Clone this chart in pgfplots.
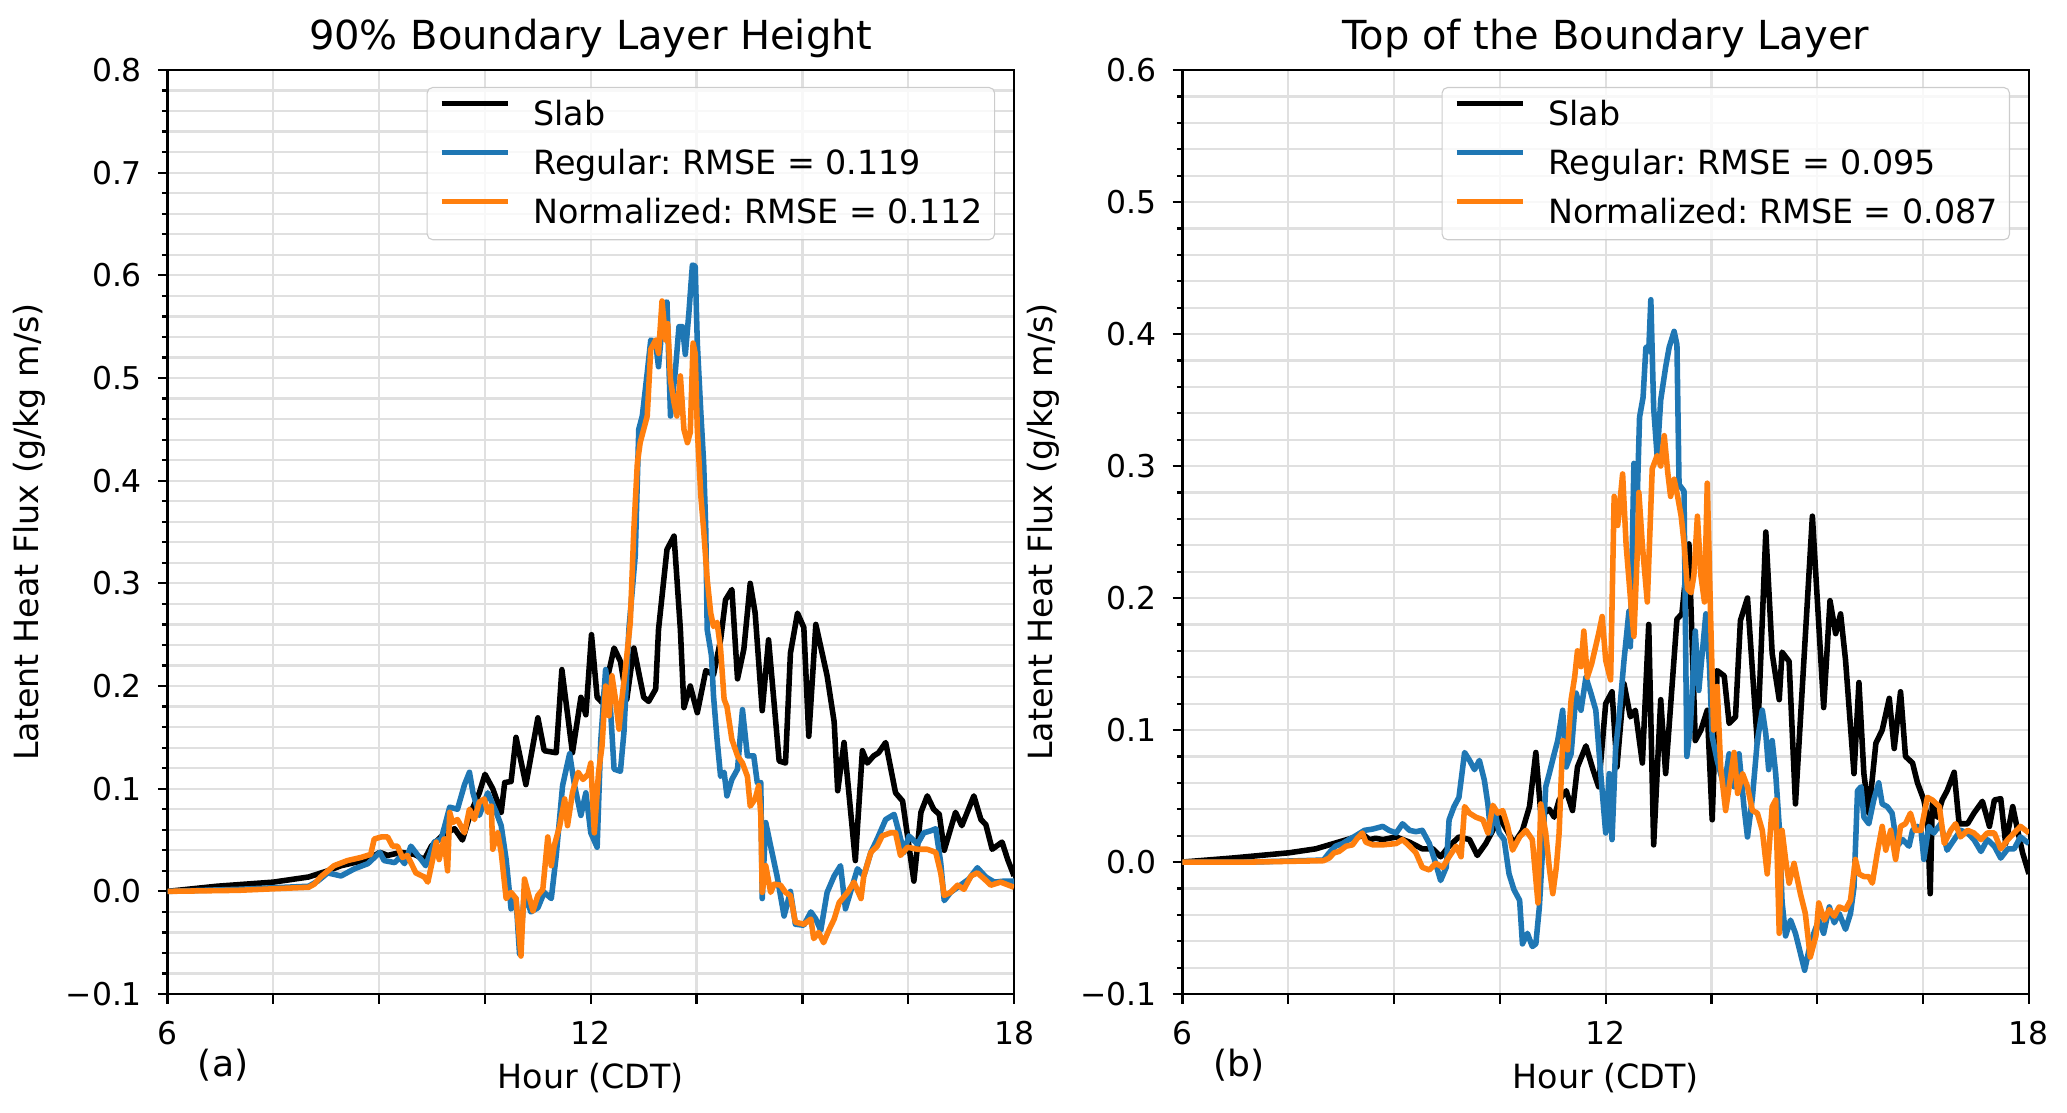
\documentclass[border=0pt]{standalone}
\usepackage{fontspec}
\setmainfont{DejaVu Sans}
\usepackage{pgfplots}
\pgfplotsset{compat=1.18}
\frenchspacing

\definecolor{mplblue}{HTML}{1F77B4}
\definecolor{mplorange}{HTML}{FF7F0E}

\pgfplotsset{
  panel/.style={
    scale only axis, width=304.7pt, height=332.6pt,
    xmin=6, xmax=18,
    xtick={6,7.5,...,18}, xticklabels={6,,,,12,,,,18},
    minor y tick num=4,
    grid=both,
    major grid style={draw=black!12, line width=0.8pt},
    minor grid style={draw=black!12, line width=0.8pt},
    tick align=outside, tick pos=left,
    major tick length=3.5pt, minor tick length=2pt,
    every tick/.style={black, line width=0.8pt},
    axis line style={line width=0.9pt},
    tick label style={font=\fontsize{11.3}{13}\selectfont},
    xticklabel style={anchor=base, yshift=-14.8pt},
    yticklabel style={anchor=east, inner xsep=0pt, xshift=-5.5pt},
    label style={font=\fontsize{12}{14}\selectfont},
    xlabel={Hour (CDT)},
    xlabel style={at={(axis description cs:0.5,0)}, anchor=center, yshift=-30.2pt},
    ylabel={Latent Heat Flux (g/kg m/s)},
    ylabel style={at={(axis description cs:0,0.5)}, anchor=center, yshift=49.9pt},
    title style={font=\fontsize{14.4}{17}\selectfont, at={(axis description cs:0.5,1)}, anchor=base, yshift=1.5pt},
    legend cell align=left,
    legend image code/.code={\draw[#1] (0pt,4pt) -- (24pt,4pt);},
    legend style={at={(axis description cs:1,1)}, anchor=north east,
      xshift=-6.8pt, yshift=-6.1pt,
      draw=black!20, fill=white, fill opacity=0.8, text opacity=1,
      rounded corners=2pt, inner xsep=4.2pt, inner ysep=1pt,
      font=\fontsize{12}{14}\selectfont,
      nodes={inner xsep=0pt, inner ysep=0pt, text height=12.8pt, text depth=4.8pt},
      /tikz/every odd column/.append style={column sep=8pt}},
    every axis plot/.append style={line width=2pt, line join=round},
  }
}

\begin{document}
\begin{tikzpicture}
\path[use as bounding box] (0,0) rectangle (744pt,400.3pt);

% (a) 90% boundary layer height
\begin{axis}[panel, at={(60.3pt,42.5pt)}, anchor=south west,
  ymin=-0.1, ymax=0.8,
  ytick={-0.1,0,0.1,0.2,0.3,0.4,0.5,0.6,0.7,0.8},
  yticklabels={−0.1,0.0,0.1,0.2,0.3,0.4,0.5,0.6,0.7,0.8},
  title={90\% Boundary Layer Height}]
\addplot[black] coordinates {
(6.0,0.0) (6.7,0.005) (7.5,0.009) (8.0,0.014) (8.27,0.020) (8.46,0.025) (8.65,0.028) (8.84,0.031)
(9.01,0.038) (9.12,0.035) (9.31,0.038) (9.5,0.036) (9.64,0.031) (9.74,0.044) (9.92,0.056) (10.07,0.061)
(10.18,0.050) (10.30,0.077) (10.42,0.096) (10.5,0.114) (10.61,0.100) (10.73,0.077) (10.78,0.106) (10.87,0.107)
(10.94,0.150) (11.08,0.104) (11.25,0.169) (11.34,0.137) (11.51,0.135) (11.59,0.216) (11.74,0.135) (11.86,0.189)
(11.93,0.172) (12.01,0.250) (12.09,0.189) (12.16,0.184) (12.33,0.237) (12.42,0.224) (12.51,0.187) (12.61,0.237)
(12.75,0.189) (12.82,0.185) (12.92,0.197) (12.96,0.255) (13.08,0.333) (13.18,0.346) (13.27,0.255) (13.32,0.179)
(13.41,0.200) (13.51,0.174) (13.63,0.215) (13.74,0.211) (13.84,0.245) (13.91,0.284) (14.0,0.294) (14.08,0.207)
(14.17,0.236) (14.26,0.300) (14.33,0.271) (14.43,0.176) (14.52,0.245) (14.67,0.127) (14.76,0.125) (14.83,0.232)
(14.93,0.271) (15.02,0.257) (15.09,0.151) (15.19,0.260) (15.35,0.210) (15.45,0.165) (15.50,0.098) (15.59,0.145)
(15.75,0.030) (15.85,0.137) (15.92,0.125) (16.01,0.132) (16.08,0.135) (16.18,0.145) (16.32,0.096) (16.42,0.088)
(16.51,0.044) (16.58,0.010) (16.68,0.077) (16.77,0.093) (16.86,0.080) (16.94,0.075) (17.01,0.040) (17.17,0.077)
(17.26,0.064) (17.43,0.093) (17.53,0.070) (17.60,0.065) (17.69,0.041) (17.83,0.048) (17.91,0.031) (18.0,0.015)
};
\addlegendentry{Slab}
\addplot[mplblue] coordinates {
(6.0,0.0) (7.0,0.002) (8.0,0.005) (8.13,0.010) (8.27,0.018) (8.46,0.015) (8.65,0.022) (8.84,0.027)
(9.01,0.038) (9.07,0.030) (9.22,0.028) (9.29,0.033) (9.36,0.027) (9.45,0.044) (9.55,0.035) (9.66,0.025)
(9.78,0.048) (9.88,0.051) (10.0,0.082) (10.11,0.080) (10.21,0.104) (10.28,0.116) (10.33,0.096) (10.42,0.074)
(10.54,0.096) (10.66,0.077) (10.73,0.064) (10.8,0.031) (10.87,-0.017) (10.94,-0.007) (10.99,-0.061) (11.06,-0.001)
(11.15,-0.020) (11.25,-0.016) (11.34,-0.001) (11.44,-0.007) (11.51,0.035) (11.60,0.103) (11.70,0.134) (11.77,0.103)
(11.86,0.074) (11.93,0.096) (12.0,0.057) (12.09,0.043) (12.14,0.145) (12.21,0.216) (12.28,0.177) (12.33,0.119)
(12.42,0.117) (12.47,0.155) (12.54,0.255) (12.63,0.327) (12.68,0.450) (12.73,0.463) (12.80,0.505) (12.85,0.537)
(12.92,0.534) (12.96,0.511) (13.04,0.573) (13.08,0.574) (13.13,0.463) (13.20,0.508) (13.25,0.550) (13.30,0.550)
(13.34,0.523) (13.39,0.563) (13.44,0.610) (13.48,0.609) (13.51,0.534) (13.56,0.466) (13.60,0.417) (13.63,0.352)
(13.65,0.255) (13.71,0.230) (13.74,0.190) (13.79,0.148) (13.84,0.112) (13.89,0.116) (13.93,0.093) (14.0,0.109)
(14.08,0.119) (14.15,0.177) (14.22,0.132) (14.31,0.132) (14.36,0.106) (14.41,0.106) (14.43,-0.007) (14.48,0.067)
(14.55,0.044) (14.64,0.015) (14.74,-0.024) (14.83,0.0) (14.90,-0.032) (15.02,-0.033) (15.12,-0.020) (15.19,-0.027)
(15.26,-0.038) (15.35,-0.001) (15.45,0.015) (15.54,0.025) (15.61,-0.017) (15.68,-0.001) (15.78,0.022) (15.87,0.015)
(15.97,0.038) (16.06,0.051) (16.18,0.070) (16.30,0.075) (16.37,0.057) (16.44,0.038) (16.51,0.054) (16.63,0.046)
(16.72,0.057) (16.82,0.059) (16.89,0.061) (16.96,0.028) (17.01,-0.009) (17.10,-0.001) (17.24,0.006) (17.36,0.012)
(17.48,0.023) (17.60,0.014) (17.72,0.009) (17.86,0.010) (18.0,0.010)
};
\addlegendentry{Regular: RMSE = 0.119}
\addplot[mplorange] coordinates {
(6.0,0.0) (7.0,0.001) (8.0,0.004) (8.08,0.007) (8.17,0.014) (8.36,0.025) (8.55,0.030) (8.74,0.033)
(8.88,0.036) (8.93,0.051) (9.03,0.053) (9.12,0.053) (9.19,0.044) (9.26,0.044) (9.33,0.033) (9.40,0.035)
(9.52,0.018) (9.64,0.014) (9.69,0.009) (9.74,0.025) (9.81,0.048) (9.85,0.031) (9.92,0.051) (9.97,0.020)
(10.0,0.077) (10.04,0.067) (10.11,0.070) (10.21,0.057) (10.28,0.080) (10.35,0.070) (10.42,0.087) (10.49,0.090)
(10.54,0.077) (10.59,0.083) (10.61,0.041) (10.68,0.057) (10.73,0.038) (10.80,-0.007) (10.87,-0.001) (10.94,-0.007)
(11.01,-0.063) (11.06,0.012) (11.11,-0.001) (11.18,-0.019) (11.25,-0.004) (11.32,0.002) (11.39,0.053) (11.44,0.025)
(11.48,0.044) (11.56,0.064) (11.63,0.090) (11.67,0.064) (11.74,0.096) (11.82,0.116) (11.89,0.109) (11.96,0.114)
(12.0,0.125) (12.05,0.057) (12.11,0.116) (12.16,0.142) (12.21,0.200) (12.26,0.171) (12.30,0.210) (12.35,0.187)
(12.40,0.158) (12.44,0.187) (12.49,0.216) (12.56,0.262) (12.61,0.352) (12.66,0.417) (12.70,0.437) (12.75,0.450)
(12.80,0.463) (12.85,0.528) (12.92,0.537) (12.96,0.524) (13.01,0.575) (13.06,0.537) (13.09,0.553) (13.13,0.498)
(13.18,0.476) (13.22,0.463) (13.27,0.502) (13.32,0.450) (13.37,0.437) (13.41,0.447) (13.45,0.534) (13.48,0.524)
(13.51,0.450) (13.56,0.385) (13.60,0.352) (13.65,0.304) (13.70,0.271) (13.74,0.258) (13.79,0.262) (13.84,0.236)
(13.89,0.187) (13.93,0.180) (14.0,0.148) (14.08,0.132) (14.15,0.125) (14.22,0.112) (14.26,0.083) (14.33,0.090)
(14.38,0.103) (14.41,0.074) (14.43,-0.001) (14.48,0.025) (14.55,-0.001) (14.60,0.007) (14.69,0.006) (14.76,-0.001)
(14.83,-0.004) (14.90,-0.030) (15.02,-0.032) (15.12,-0.027) (15.16,-0.046) (15.23,-0.040) (15.30,-0.050) (15.38,-0.037)
(15.45,-0.027) (15.52,-0.011) (15.64,-0.001) (15.73,0.009) (15.83,-0.007) (15.87,0.015) (15.97,0.038) (16.06,0.044)
(16.13,0.054) (16.25,0.057) (16.32,0.057) (16.39,0.035) (16.49,0.043) (16.63,0.041) (16.77,0.041) (16.89,0.038)
(16.96,0.018) (17.01,-0.004) (17.10,-0.001) (17.20,0.006) (17.29,0.002) (17.39,0.015) (17.48,0.018) (17.58,0.012)
(17.67,0.006) (17.81,0.009) (18.0,0.004)
};
\addlegendentry{Normalized: RMSE = 0.112}
\end{axis}
\node[font=\fontsize{13}{15}\selectfont] at (80.3pt,16.9pt) {(a)};

% (b) top of the boundary layer
\begin{axis}[panel, at={(425.6pt,42.5pt)}, anchor=south west,
  ymin=-0.1, ymax=0.6,
  ytick={-0.1,0,0.1,0.2,0.3,0.4,0.5,0.6},
  yticklabels={−0.1,0.0,0.1,0.2,0.3,0.4,0.5,0.6},
  title={Top of the Boundary Layer}]
\addplot[black] coordinates {
(6.0,0.0) (6.7,0.003) (7.51,0.007) (7.89,0.010) (8.08,0.013) (8.27,0.016) (8.46,0.019) (8.58,0.020)
(8.65,0.017) (8.74,0.018) (8.84,0.017) (9.03,0.019) (9.22,0.015) (9.40,0.010) (9.55,0.010) (9.66,0.004)
(9.78,0.012) (9.92,0.019) (10.07,0.017) (10.18,0.005) (10.30,0.014) (10.40,0.024) (10.49,0.034) (10.61,0.023)
(10.70,0.014) (10.82,0.024) (10.92,0.042) (11.01,0.083) (11.08,0.037) (11.13,0.037) (11.20,0.040) (11.27,0.034)
(11.34,0.047) (11.44,0.054) (11.53,0.039) (11.60,0.072) (11.72,0.088) (11.82,0.070) (11.90,0.057) (12.0,0.120)
(12.09,0.129) (12.16,0.072) (12.26,0.135) (12.35,0.110) (12.42,0.115) (12.52,0.075) (12.61,0.180) (12.68,0.013)
(12.78,0.123) (12.85,0.067) (13.01,0.184) (13.08,0.188) (13.18,0.241) (13.27,0.092) (13.35,0.100) (13.44,0.115)
(13.51,0.032) (13.58,0.145) (13.68,0.141) (13.75,0.105) (13.84,0.110) (13.91,0.183) (14.01,0.200) (14.15,0.090)
(14.27,0.250) (14.36,0.158) (14.46,0.123) (14.50,0.159) (14.60,0.152) (14.69,0.044) (14.93,0.262) (15.09,0.117)
(15.18,0.198) (15.26,0.173) (15.33,0.188) (15.40,0.153) (15.52,0.067) (15.59,0.136) (15.66,0.067) (15.73,0.037)
(15.83,0.090) (15.92,0.100) (16.02,0.124) (16.09,0.086) (16.18,0.129) (16.25,0.080) (16.35,0.075) (16.42,0.060)
(16.51,0.047) (16.56,0.034) (16.60,-0.024) (16.63,0.044) (16.70,0.034) (16.77,0.047) (16.84,0.054) (16.94,0.068)
(17.01,0.029) (17.13,0.029) (17.22,0.037) (17.34,0.046) (17.44,0.027) (17.51,0.047) (17.60,0.048) (17.67,0.014)
(17.77,0.042) (17.84,0.024) (17.91,0.007) (18.0,-0.009)
};
\addlegendentry{Slab}
\addplot[mplblue] coordinates {
(6.0,0.0) (7.0,0.0) (8.0,0.0015) (8.08,0.007) (8.17,0.012) (8.27,0.014) (8.36,0.017) (8.46,0.020)
(8.58,0.024) (8.70,0.025) (8.84,0.027) (8.93,0.024) (9.03,0.022) (9.12,0.029) (9.22,0.024) (9.31,0.023)
(9.40,0.024) (9.50,0.014) (9.59,-0.001) (9.66,-0.014) (9.74,-0.004) (9.78,0.032) (9.85,0.042) (9.92,0.049)
(10.0,0.083) (10.07,0.077) (10.14,0.070) (10.21,0.077) (10.28,0.062) (10.33,0.044) (10.37,0.022) (10.42,0.041)
(10.49,0.022) (10.56,0.017) (10.63,-0.009) (10.70,-0.021) (10.78,-0.029) (10.82,-0.062) (10.89,-0.054) (10.96,-0.064)
(11.01,-0.062) (11.06,-0.034) (11.11,0.014) (11.15,0.057) (11.20,0.067) (11.27,0.082) (11.32,0.092) (11.39,0.115)
(11.44,0.072) (11.51,0.082) (11.58,0.128) (11.65,0.115) (11.72,0.140) (11.79,0.128) (11.86,0.115) (11.93,0.067)
(12.0,0.022) (12.05,0.067) (12.09,0.017) (12.14,0.085) (12.19,0.110) (12.26,0.153) (12.33,0.190) (12.35,0.163)
(12.40,0.302) (12.45,0.281) (12.48,0.337) (12.53,0.352) (12.57,0.390) (12.61,0.387) (12.64,0.426) (12.68,0.344)
(12.73,0.307) (12.78,0.350) (12.85,0.375) (12.90,0.390) (12.97,0.402) (13.01,0.392) (13.04,0.286) (13.11,0.281)
(13.15,0.080) (13.20,0.102) (13.27,0.175) (13.32,0.130) (13.42,0.188) (13.47,0.150) (13.51,0.095) (13.58,0.077)
(13.68,0.057) (13.75,0.082) (13.82,0.057) (13.89,0.082) (13.96,0.042) (14.01,0.019) (14.08,0.049) (14.15,0.092)
(14.22,0.115) (14.27,0.097) (14.31,0.070) (14.36,0.092) (14.41,0.067) (14.46,0.027) (14.50,-0.030) (14.55,-0.056)
(14.62,-0.044) (14.69,-0.054) (14.76,-0.069) (14.82,-0.082) (14.88,-0.067) (14.95,-0.054) (15.02,-0.044) (15.09,-0.054)
(15.17,-0.034) (15.24,-0.046) (15.31,-0.039) (15.40,-0.051) (15.47,-0.039) (15.52,-0.019) (15.57,0.054) (15.62,0.057)
(15.66,0.034) (15.73,0.029) (15.80,0.047) (15.87,0.060) (15.92,0.044) (15.99,0.042) (16.06,0.037) (16.13,0.012)
(16.21,0.017) (16.30,0.012) (16.35,0.024) (16.42,0.027) (16.47,0.024) (16.51,0.002) (16.58,0.027) (16.65,0.022)
(16.75,0.029) (16.84,0.009) (16.94,0.017) (17.03,0.024) (17.13,0.022) (17.22,0.017) (17.32,0.008) (17.41,0.017)
(17.51,0.012) (17.60,0.003) (17.70,0.010) (17.79,0.010) (17.88,0.019) (18.0,0.014)
};
\addlegendentry{Regular: RMSE = 0.095}
\addplot[mplorange] coordinates {
(6.0,0.0) (7.0,0.0) (8.0,0.001) (8.08,0.003) (8.15,0.007) (8.22,0.008) (8.32,0.012) (8.41,0.013)
(8.48,0.018) (8.55,0.022) (8.60,0.015) (8.70,0.013) (8.84,0.013) (9.03,0.014) (9.12,0.017) (9.22,0.012)
(9.31,0.007) (9.40,-0.004) (9.50,-0.006) (9.59,-0.001) (9.69,-0.004) (9.78,0.004) (9.88,0.012) (9.95,0.004)
(10.0,0.042) (10.07,0.037) (10.16,0.034) (10.26,0.032) (10.33,0.022) (10.40,0.043) (10.47,0.037) (10.54,0.039)
(10.61,0.027) (10.68,0.009) (10.78,0.019) (10.87,0.024) (10.96,0.017) (11.04,-0.031) (11.08,0.044) (11.15,0.022)
(11.20,-0.004) (11.25,-0.024) (11.30,-0.004) (11.34,0.022) (11.39,0.092) (11.46,0.085) (11.51,0.123) (11.56,0.140)
(11.60,0.160) (11.65,0.148) (11.69,0.175) (11.74,0.140) (11.80,0.150) (11.90,0.173) (11.95,0.186) (12.0,0.153)
(12.07,0.138) (12.12,0.277) (12.17,0.255) (12.24,0.294) (12.29,0.240) (12.36,0.194) (12.40,0.171) (12.45,0.237)
(12.47,0.280) (12.52,0.240) (12.59,0.197) (12.66,0.298) (12.73,0.308) (12.78,0.300) (12.83,0.323) (12.88,0.295)
(12.92,0.277) (12.97,0.290) (13.02,0.277) (13.07,0.262) (13.11,0.242) (13.16,0.207) (13.21,0.204) (13.25,0.217)
(13.30,0.262) (13.35,0.217) (13.40,0.197) (13.44,0.287) (13.49,0.180) (13.53,0.100) (13.58,0.133) (13.63,0.072)
(13.70,0.039) (13.75,0.057) (13.82,0.083) (13.87,0.052) (13.94,0.067) (14.01,0.057) (14.08,0.039) (14.15,0.037)
(14.22,0.024) (14.29,-0.009) (14.36,0.042) (14.41,0.047) (14.46,-0.054) (14.50,0.024) (14.55,0.002) (14.60,-0.016)
(14.67,-0.001) (14.76,-0.024) (14.83,-0.039) (14.90,-0.072) (14.98,-0.056) (15.02,-0.031) (15.10,-0.044) (15.17,-0.036)
(15.24,-0.041) (15.31,-0.034) (15.40,-0.036) (15.47,-0.029) (15.54,0.002) (15.59,-0.009) (15.66,-0.011) (15.73,-0.011)
(15.78,-0.016) (15.85,0.007) (15.92,0.027) (15.97,0.009) (16.04,0.024) (16.11,0.002) (16.18,0.027) (16.25,0.029)
(16.32,0.037) (16.39,0.024) (16.47,0.024) (16.56,0.049) (16.63,0.047) (16.73,0.042) (16.80,0.014) (16.89,0.024)
(16.96,0.029) (17.03,0.019) (17.13,0.024) (17.22,0.022) (17.32,0.017) (17.41,0.022) (17.51,0.022) (17.60,0.010)
(17.70,0.017) (17.79,0.022) (17.88,0.027) (18.0,0.022)
};
\addlegendentry{Normalized: RMSE = 0.087}
\end{axis}
\node[font=\fontsize{13}{15}\selectfont] at (446pt,16.9pt) {(b)};
\end{tikzpicture}
\end{document}
